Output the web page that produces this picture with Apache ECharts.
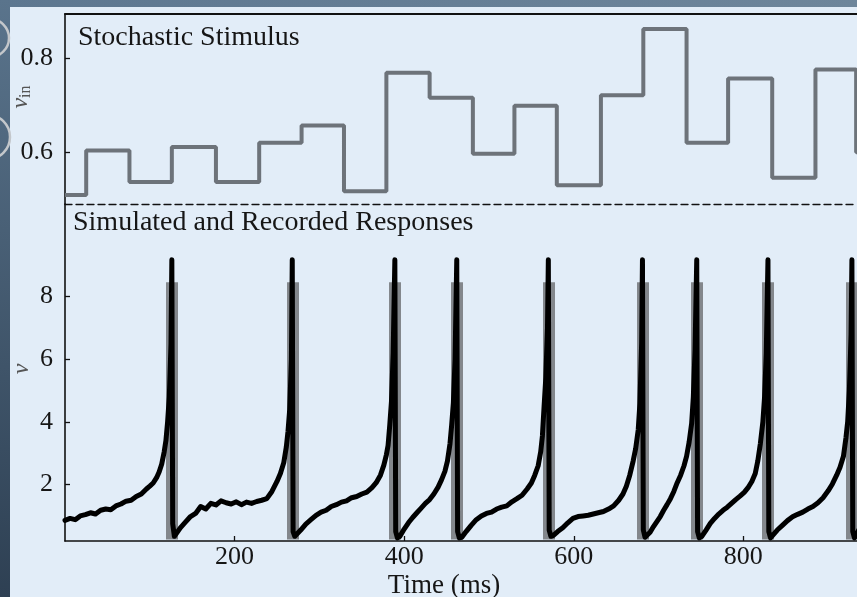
<!DOCTYPE html>
<html>
<head>
<meta charset="utf-8">
<script src="https://cdn.jsdelivr.net/npm/echarts@6/dist/echarts.min.js"></script>
<style>
  html, body { margin: 0; padding: 0; background: #e2edf8; }
  #chart { width: 857px; height: 597px; }
</style>
</head>
<body>
<div id="chart"></div>
<script>
var myChart = echarts.init(document.getElementById('chart'));

// stimulus steps: start time (ms) and level
var stimulusTime = [0, 25, 76, 126, 178, 229, 279, 329, 379, 430, 481, 530, 580, 632, 682, 733, 782, 834, 885, 933];
var stimulusValue = [0.509, 0.604, 0.537, 0.611, 0.537, 0.620, 0.657, 0.517, 0.769, 0.716, 0.597, 0.699, 0.530, 0.721, 0.862, 0.620, 0.757, 0.546, 0.776, 0.60];

// spike times of the simulated response (ms)
var spikeTimes = [126, 268, 389, 462, 570, 681, 745, 829, 928];
var simulatedSpikeBase = 0.25;
var simulatedSpikePeak = 8.45;

var recordedTime = [
  0, 6, 12, 18, 24, 30, 36, 42, 48, 54, 60, 66, 72, 78, 84, 90, 96, 100, 104, 108, 111, 114, 117, 119, 121, 123, 125, 126, 127, 129,
  131, 136, 142, 148, 154, 160, 166, 172, 178, 184, 190, 196, 202, 208, 214, 220, 226, 232, 238, 244, 250, 254, 258, 261, 263, 265, 267, 268, 269, 271,
  273, 278, 284, 290, 296, 302, 308, 314, 320, 326, 332, 338, 344, 350, 356, 362, 367, 372, 376, 379, 381, 383, 385, 387, 389, 390, 392,
  395, 400, 405, 410, 415, 420, 425, 430, 435, 440, 444, 448, 451, 454, 456, 458, 460, 462, 463, 465,
  468, 473, 479, 485, 491, 497, 503, 509, 515, 521, 527, 533, 539, 545, 550, 554, 558, 561, 563, 565, 567, 569, 570, 571, 573,
  576, 581, 587, 593, 599, 605, 611, 617, 623, 629, 635, 641, 647, 653, 658, 662, 666, 670, 673, 676, 678, 680, 681, 682, 684,
  686, 690, 694, 698, 702, 706, 710, 714, 718, 722, 726, 730, 733, 736, 739, 741, 743, 745, 746, 748,
  751, 756, 761, 766, 771, 776, 781, 786, 791, 796, 801, 806, 810, 814, 817, 820, 823, 825, 827, 829, 830, 832,
  834, 840, 846, 852, 858, 864, 870, 876, 882, 888, 894, 900, 905, 910, 914, 918, 921, 923, 925, 927, 928, 929, 931, 937
];
var recordedValue = [
  0.86, 0.92, 0.88, 1.00, 1.04, 1.10, 1.06, 1.18, 1.22, 1.20, 1.32, 1.38, 1.47, 1.50, 1.62, 1.70, 1.86, 1.95, 2.05, 2.22, 2.40, 2.65, 3.05, 3.40, 4.0, 4.8, 6.5, 9.17, 0.75, 0.35,
  0.40, 0.62, 0.80, 0.98, 1.08, 1.30, 1.22, 1.40, 1.35, 1.48, 1.42, 1.38, 1.45, 1.36, 1.44, 1.40, 1.46, 1.50, 1.55, 1.78, 2.10, 2.35, 2.70, 3.20, 3.7, 4.4, 6.0, 9.17, 0.5, 0.35,
  0.40, 0.55, 0.74, 0.88, 1.02, 1.12, 1.18, 1.30, 1.36, 1.44, 1.48, 1.58, 1.62, 1.70, 1.76, 1.90, 2.06, 2.30, 2.62, 2.95, 3.25, 3.9, 4.65, 6.2, 9.17, 0.5, 0.3,
  0.35, 0.58, 0.78, 0.95, 1.10, 1.25, 1.40, 1.52, 1.70, 1.92, 2.15, 2.42, 2.75, 3.3, 3.9, 4.6, 6.0, 9.17, 0.5, 0.3,
  0.32, 0.50, 0.70, 0.88, 1.00, 1.08, 1.12, 1.22, 1.28, 1.32, 1.45, 1.55, 1.66, 1.86, 2.05, 2.30, 2.60, 3.05, 3.55, 4.5, 5.4, 7.0, 9.17, 0.55, 0.35,
  0.38, 0.50, 0.62, 0.78, 0.92, 0.98, 1.00, 1.02, 1.06, 1.10, 1.14, 1.22, 1.32, 1.50, 1.70, 1.95, 2.30, 2.75, 3.15, 3.75, 4.6, 6.5, 9.17, 0.55, 0.32,
  0.32, 0.48, 0.66, 0.82, 0.98, 1.18, 1.36, 1.55, 1.78, 2.06, 2.30, 2.60, 2.90, 3.35, 3.95, 4.8, 6.3, 9.17, 0.5, 0.3,
  0.35, 0.55, 0.76, 0.92, 1.06, 1.18, 1.28, 1.40, 1.52, 1.63, 1.75, 1.92, 2.10, 2.35, 2.75, 3.3, 4.0, 4.8, 6.2, 9.17, 0.5, 0.3,
  0.35, 0.55, 0.70, 0.85, 0.97, 1.05, 1.12, 1.22, 1.30, 1.42, 1.58, 1.80, 2.02, 2.30, 2.55, 2.90, 3.50, 4.0, 5.0, 6.8, 9.17, 0.5, 0.3, 0.6
];

var stimTicks = [0.6, 0.8];
var respTicks = [2, 4, 6, 8];
var timeTicks = [200, 400, 600, 800];
var timeMax = 934; // the figure is cut at the right edge of the picture

var serif = 'Liberation Serif';
var ink = '#161616';

var stimulusData = stimulusTime.map(function (t, i) { return [t, stimulusValue[i]]; });
stimulusData.push([timeMax, stimulusValue[stimulusValue.length - 1]]);
var recordedData = recordedTime.map(function (t, i) { return [t, recordedValue[i]]; });
var spikeData = spikeTimes.map(function (t) {
  return { coords: [[t, simulatedSpikeBase], [t, simulatedSpikePeak]] };
});

var option = {
  backgroundColor: '#e2edf8',
  animation: false,
  grid: [
    { left: 65, top: 14, right: 0, height: 190 },
    { left: 65, top: 204, right: 0, height: 337 }
  ],
  xAxis: [
    {
      gridIndex: 0, type: 'value', min: 0, max: timeMax, position: 'bottom',
      axisLine: { lineStyle: { color: '#111', width: 1.3, type: [7, 4] } },
      axisTick: { show: false }, axisLabel: { show: false }, splitLine: { show: false }
    },
    {
      gridIndex: 0, type: 'value', min: 0, max: timeMax, position: 'top',
      axisLine: { lineStyle: { color: '#111', width: 2 } },
      axisTick: { show: false }, axisLabel: { show: false }, splitLine: { show: false }
    },
    {
      gridIndex: 1, type: 'value', min: 0, max: timeMax, position: 'bottom',
      axisLine: { lineStyle: { color: '#111', width: 1.6 } },
      axisTick: { inside: true, length: 5, customValues: timeTicks, lineStyle: { color: '#111', width: 1.3 } },
      axisLabel: { customValues: timeTicks, margin: 3, color: ink, fontFamily: serif, fontSize: 26 },
      splitLine: { show: false }
    }
  ],
  yAxis: [
    {
      gridIndex: 0, type: 'value', min: 0.49, max: 0.894,
      axisLine: { show: true, lineStyle: { color: '#111', width: 1.6 } },
      axisTick: { show: true, inside: true, length: 5, customValues: stimTicks, lineStyle: { color: '#111', width: 1.3 } },
      axisLabel: {
        customValues: stimTicks, margin: 12, color: ink, fontFamily: serif, fontSize: 26,
        formatter: function (v) { return v.toFixed(1); }
      },
      splitLine: { show: false }
    },
    {
      gridIndex: 1, type: 'value', min: 0.2, max: 10.95,
      axisLine: { show: true, lineStyle: { color: '#111', width: 1.6 } },
      axisTick: { show: true, inside: true, length: 5, customValues: respTicks, lineStyle: { color: '#111', width: 1.3 } },
      axisLabel: { customValues: respTicks, margin: 12, color: ink, fontFamily: serif, fontSize: 26 },
      splitLine: { show: false }
    }
  ],
  series: [
    {
      name: 'Stochastic Stimulus',
      type: 'line', xAxisIndex: 0, yAxisIndex: 0, step: 'end', symbol: 'none',
      lineStyle: { color: '#6d737a', width: 4 },
      data: stimulusData, z: 3
    },
    {
      name: 'Simulated',
      type: 'lines', coordinateSystem: 'cartesian2d', xAxisIndex: 2, yAxisIndex: 1,
      lineStyle: { color: '#83878c', width: 12, opacity: 1, curveness: 0 },
      data: spikeData, z: 3
    },
    {
      name: 'Recorded',
      type: 'line', xAxisIndex: 2, yAxisIndex: 1, symbol: 'none',
      lineStyle: { color: '#000', width: 5, join: 'round', cap: 'round' },
      data: recordedData, z: 4
    }
  ],
  graphic: [
    {
      type: 'rect', shape: { x: 0, y: 0, width: 857, height: 7 },
      style: { fill: new echarts.graphic.LinearGradient(0, 0, 1, 0, [
        { offset: 0, color: '#5d7790' }, { offset: 1, color: '#6e869b' }]) }
    },
    {
      type: 'rect', shape: { x: 0, y: 0, width: 10, height: 597 },
      style: { fill: new echarts.graphic.LinearGradient(0, 0, 0, 1, [
        { offset: 0, color: '#5a748c' }, { offset: 1, color: '#2e4053' }]) }
    },
    { type: 'circle', shape: { cx: -10, cy: 38, r: 19 }, style: { fill: 'none', stroke: '#c3c7cb', lineWidth: 2.5 } },
    { type: 'circle', shape: { cx: -12, cy: 137, r: 22 }, style: { fill: 'none', stroke: '#c3c7cb', lineWidth: 2.5 } },
    {
      type: 'text', x: 78, y: 38,
      style: { text: 'Stochastic Stimulus', font: '28px "Liberation Serif"', fill: ink, verticalAlign: 'middle' }
    },
    {
      type: 'text', x: 73, y: 223,
      style: { text: 'Simulated and Recorded Responses', font: '28px "Liberation Serif"', fill: ink, verticalAlign: 'middle' }
    },
    {
      type: 'text', x: 444, y: 586,
      style: { text: 'Time (ms)', font: '27px "Liberation Serif"', fill: ink, align: 'center', verticalAlign: 'middle' }
    },
    {
      type: 'text', x: 21, y: 97, rotation: Math.PI / 2,
      style: {
        text: '{v|v}{s|in}', align: 'center', verticalAlign: 'middle',
        rich: {
          v: { fontFamily: serif, fontStyle: 'italic', fontSize: 24, fill: '#555', color: '#555' },
          s: { fontFamily: serif, fontSize: 16, fill: '#555', color: '#555', padding: [10, 0, 0, 0] }
        }
      }
    },
    {
      type: 'text', x: 22, y: 369, rotation: Math.PI / 2,
      style: { text: 'v', font: 'italic 24px "Liberation Serif"', fill: '#555', align: 'center', verticalAlign: 'middle' }
    }
  ]
};

myChart.setOption(option);
</script>
</body>
</html>
